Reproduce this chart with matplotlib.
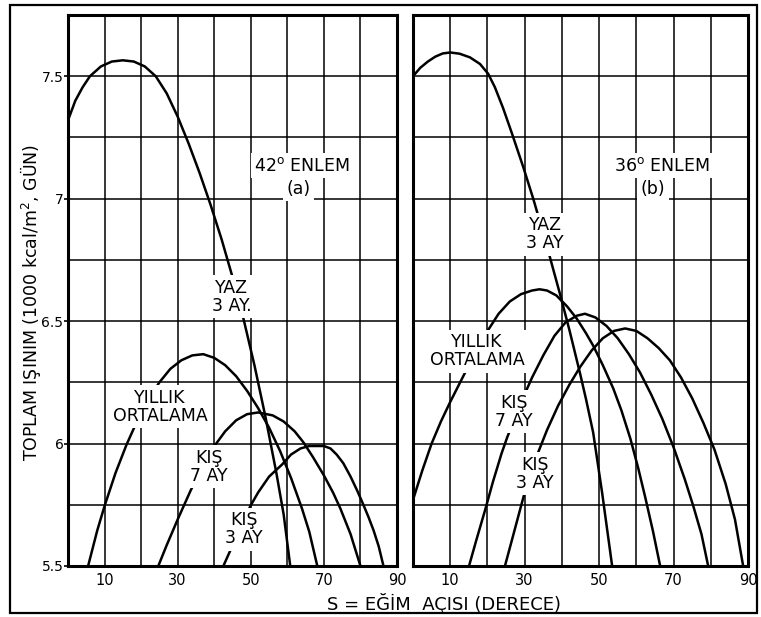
import matplotlib
matplotlib.use("Agg")
import matplotlib.pyplot as plt
from matplotlib.patches import Rectangle

plt.rcParams['font.family'] = ['DejaVu Sans']
plt.rcParams['mathtext.fontset'] = 'dejavusans'

# ---------------- data : panel (a) 42° latitude ----------------
s_yaz_a = [0, 2, 4, 6, 9, 12, 15, 18, 21, 24, 27, 30, 33, 36, 39, 42, 45, 48, 51, 54, 57, 59, 60.8]
v_yaz_a = [7.32, 7.40, 7.455, 7.50, 7.54, 7.56, 7.565, 7.56, 7.54, 7.50, 7.43, 7.335, 7.225, 7.105,
           6.975, 6.835, 6.68, 6.51, 6.32, 6.11, 5.88, 5.71, 5.50]

s_yil_a = [5.5, 8, 10, 13, 16, 19, 22, 25, 28, 31, 34, 37, 40, 43, 46, 49, 52, 55, 58, 61, 64, 66, 68.2]
v_yil_a = [5.50, 5.645, 5.745, 5.88, 5.995, 6.095, 6.18, 6.25, 6.305, 6.34, 6.36, 6.365, 6.35, 6.32,
           6.275, 6.215, 6.145, 6.065, 5.97, 5.86, 5.735, 5.64, 5.50]

s_k7_a = [24.7, 27, 30, 33.6, 37, 40.3, 43, 46, 49, 52, 56, 59, 62, 64.4, 67, 70, 72.5, 74.5, 77.3, 80]
v_k7_a = [5.50, 5.585, 5.69, 5.81, 5.91, 5.995, 6.05, 6.095, 6.12, 6.127, 6.115, 6.09, 6.05, 6.005,
          5.945, 5.87, 5.80, 5.735, 5.63, 5.50]

s_k3_a = [42.5, 44.6, 47, 49.9, 52, 55, 58.6, 61, 63.6, 66, 68.2, 70, 71.8, 73.5, 75.3, 77.3, 79.2,
          80.8, 82.2, 83.6, 85, 86.3]
v_k3_a = [5.50, 5.57, 5.65, 5.745, 5.80, 5.865, 5.915, 5.955, 5.98, 5.99, 5.99, 5.99, 5.98, 5.955,
          5.92, 5.865, 5.805, 5.75, 5.70, 5.645, 5.58, 5.50]

# ---------------- data : panel (b) 36° latitude ----------------
s_yaz_b = [0, 2, 4, 6, 8, 10, 12.5, 15.3, 18, 20.2, 22, 24.2, 26.5, 29.6, 32.3, 34.5, 36.8, 39.5,
           42, 44.9, 46.5, 48.4, 50.8, 53.5]
v_yaz_b = [7.50, 7.535, 7.56, 7.58, 7.593, 7.597, 7.592, 7.577, 7.55, 7.51, 7.455, 7.37, 7.27, 7.13,
           7.00, 6.885, 6.76, 6.61, 6.465, 6.285, 6.18, 6.045, 5.80, 5.50]

s_yil_b = [0, 2.5, 5, 7.5, 10, 12, 14, 17, 20.2, 23, 26, 29, 32, 34, 36, 38.5, 41.4, 44, 46.5, 48.4,
           51, 53.8, 56, 58.4, 60.5, 62.4, 64.5, 66.4]
v_yil_b = [5.77, 5.89, 6.00, 6.09, 6.17, 6.23, 6.29, 6.375, 6.464, 6.53, 6.58, 6.61, 6.625, 6.63,
           6.625, 6.605, 6.56, 6.51, 6.45, 6.40, 6.32, 6.225, 6.135, 6.02, 5.90, 5.78, 5.64, 5.50]

s_k7_b = [15.05, 17, 19.4, 21.5, 23.8, 25.3, 27.5, 29.5, 32, 35, 38, 41, 44, 46.2, 49, 52, 55, 58,
          61, 64, 67, 70, 73, 75.3, 77.5, 79.3]
v_k7_b = [5.50, 5.605, 5.73, 5.845, 5.96, 6.025, 6.11, 6.185, 6.27, 6.36, 6.44, 6.495, 6.522, 6.53,
          6.515, 6.48, 6.43, 6.365, 6.29, 6.20, 6.10, 5.985, 5.855, 5.745, 5.63, 5.50]

s_k3_b = [24.7, 27, 30, 33, 36, 39, 42, 45, 48, 51, 54, 57, 60, 63, 66, 69, 72, 75, 78, 81, 84, 86.5, 88.7]
v_k3_b = [5.50, 5.63, 5.80, 5.94, 6.055, 6.155, 6.24, 6.315, 6.38, 6.43, 6.46, 6.47, 6.46, 6.43,
          6.39, 6.34, 6.27, 6.185, 6.085, 5.975, 5.835, 5.69, 5.50]

# ---------------- axes / ticks ----------------
x_major = [10, 30, 50, 70, 90]
x_minor = [0, 20, 40, 60, 80]
y_major = [5.5, 6.0, 6.5, 7.0, 7.5]
y_major_labels = ["5.5", "6", "6.5", "7", "7.5"]
y_minor = [5.75, 6.25, 6.75, 7.25, 7.75]

ylabel = "TOPLAM IŞINIM (1000 kcal/m$^2$, GÜN)"
xlabel = "S = EĞİM  AÇISI (DERECE)"

# curve labels: (text, x, y)
labels_a = [("YAZ\n3 AY.", 44.8, 6.60),
            ("YILLIK\nORTALAMA", 25.2, 6.15),
            ("KIŞ\n7 AY", 38.6, 5.905),
            ("KIŞ\n3 AY", 48.2, 5.65)]
labels_b = [("YAZ\n3 AY", 35.5, 6.855),
            ("YILLIK\nORTALAMA", 17.2, 6.377),
            ("KIŞ\n7 AY", 27.2, 6.13),
            ("KIŞ\n3 AY", 32.8, 5.876)]
title_a = [(r"42$^{\mathrm{o}}$ ENLEM", 64.1, 7.135), ("(a)", 63.0, 7.04)]
title_b = [(r"36$^{\mathrm{o}}$ ENLEM", 66.9, 7.135), ("(b)", 64.5, 7.04)]

W, H = 761, 617
fig = plt.figure(figsize=(W / 100, H / 100), dpi=100)
fig.patch.set_facecolor("white")

axA = fig.add_axes([68 / W, 51 / H, 329 / W, 551 / H])
axB = fig.add_axes([413 / W, 51 / H, 335 / W, 551 / H])


def style(ax, show_y):
    ax.set_xlim(0, 90)
    ax.set_ylim(5.5, 7.75)
    ax.set_xticks(x_major)
    ax.set_xticks(x_minor, minor=True)
    ax.set_xticklabels([str(v) for v in x_major], fontsize=10.5)
    ax.set_yticks(y_major)
    ax.set_yticks(y_minor, minor=True)
    if show_y:
        ax.set_yticklabels(y_major_labels, fontsize=10)
        ax.tick_params(axis='y', which='major', length=3, width=1.2, pad=0.3, direction='out')
    else:
        ax.set_yticklabels([])
        ax.tick_params(axis='y', which='major', length=0)
    ax.tick_params(axis='y', which='minor', length=0)
    ax.tick_params(axis='x', which='both', length=0, pad=5)
    ax.grid(True, which='both', color='black', lw=1.1)
    ax.set_axisbelow(True)
    for sp in ax.spines.values():
        sp.set_linewidth(2.2)
        sp.set_color('black')


style(axA, True)
style(axB, False)

for s, v in [(s_yaz_a, v_yaz_a), (s_yil_a, v_yil_a), (s_k7_a, v_k7_a), (s_k3_a, v_k3_a)]:
    axA.plot(s, v, color='black', lw=1.8, zorder=3, solid_capstyle='butt', solid_joinstyle='round')
for s, v in [(s_yaz_b, v_yaz_b), (s_yil_b, v_yil_b), (s_k7_b, v_k7_b), (s_k3_b, v_k3_b)]:
    axB.plot(s, v, color='black', lw=1.8, zorder=3, solid_capstyle='butt', solid_joinstyle='round')

box = dict(facecolor='white', edgecolor='none', pad=2.5)
for ax, labs, tits in [(axA, labels_a, title_a), (axB, labels_b, title_b)]:
    for t, x, y in labs:
        ax.text(x, y, t, ha='center', va='center', fontsize=12.5, linespacing=1.0,
                multialignment='center', bbox=box, zorder=5)
    for t, x, y in tits:
        ax.text(x, y, t, ha='center', va='center', fontsize=12.5, bbox=box, zorder=5)

fig.text(31 / W, 1 - 302 / H, ylabel, rotation=90, ha='center', va='center', fontsize=12.5)
fig.text(444 / W, 1 - 603 / H, xlabel, ha='center', va='center', fontsize=13)

fig.patches.append(Rectangle((10 / W, 4 / H), 747 / W, 608 / H, transform=fig.transFigure,
                             fill=False, edgecolor='black', lw=1.6))

fig.savefig("out.png", dpi=100)
